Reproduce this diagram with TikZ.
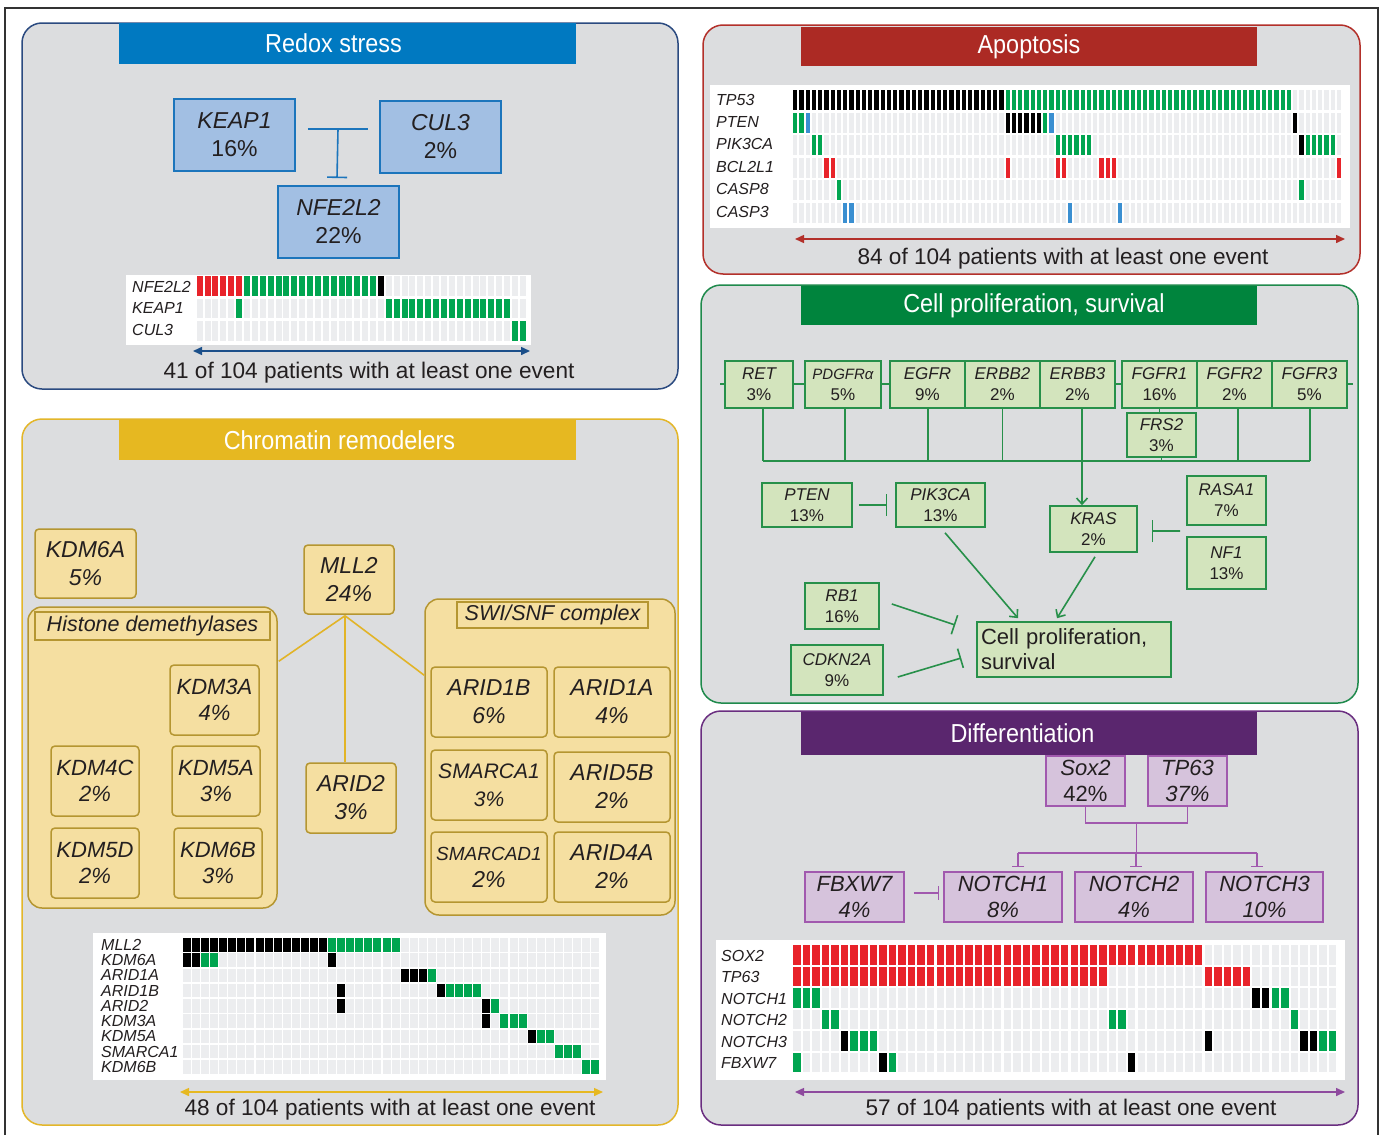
\documentclass[tikz,border=0pt]{standalone}
\usepackage{fontspec}
\setmainfont{Liberation Sans}
\newfontfamily\titlefont[FakeStretch=0.9]{Liberation Sans}
\usetikzlibrary{arrows.meta,calc}
\newcommand\fsz[2]{\fontsize{#1}{#2}\selectfont}
\newcommand\orow[4]{\foreach \i in {#2,...,#3}{\fill[#4] ({\ox+\i*\odx},#1) rectangle ++(\ow,\oh);}}
\newcommand\ogrid[2]{\foreach \yy in {#1}{\orow{\yy}{0}{#2}{cellgrey}}}
\definecolor{panelbg}{HTML}{DCDDDF}
\definecolor{cellgrey}{HTML}{ECEDEF}
\definecolor{ored}{HTML}{E8232A}
\definecolor{ogreen}{HTML}{00A550}
\definecolor{oblue}{HTML}{3A8FD1}
\definecolor{redoxtitle}{HTML}{0079C1}
\definecolor{redoxborder}{HTML}{2B4A80}
\definecolor{redoxfill}{HTML}{A2BFE3}
\definecolor{redoxline}{HTML}{1C75BC}
\definecolor{redoxarrow}{HTML}{1B4F8A}
\definecolor{apotitle}{HTML}{AC2A24}
\definecolor{apoborder}{HTML}{B3302A}
\definecolor{proltitle}{HTML}{00843D}
\definecolor{prolborder}{HTML}{1F8A4C}
\definecolor{prolfill}{HTML}{D3E4BD}
\definecolor{prolline}{HTML}{27904A}
\definecolor{difftitle}{HTML}{5A266E}
\definecolor{diffborder}{HTML}{6A2E80}
\definecolor{difffill}{HTML}{D6C3DC}
\definecolor{diffline}{HTML}{A159AE}
\definecolor{diffarrow}{HTML}{8E4A9E}
\definecolor{chromtitle}{HTML}{E6B821}
\definecolor{chromborder}{HTML}{E3B62A}
\definecolor{chromfill}{HTML}{F5DFA1}
\definecolor{chrombox}{HTML}{B59631}
\definecolor{chromline}{HTML}{E2B427}
\definecolor{txt}{HTML}{231F20}
\begin{document}
\begin{tikzpicture}[x=1pt,y=-1pt,
 wh/.style 2 args={minimum width=#1pt, minimum height=#2pt},
 panel/.style={draw=#1, fill=panelbg, line width=1.5pt, rounded corners=20pt, inner sep=0pt},
 tbar/.style={fill=#1, text=white, inner sep=0pt, font=\titlefont\fsz{26}{30}},
 foot/.style={text=txt, font=\fsz{22.6}{26}, inner sep=0pt},
 olab/.style={anchor=west, inner sep=0pt, text=txt, font=\itshape\fsz{16}{18}},
 clab/.style={anchor=west, inner sep=0pt, text=txt, font=\itshape\fsz{16}{16}},
 wbg/.style={fill=white, inner sep=0pt},
 rbox/.style={draw=redoxline, fill=redoxfill, line width=1.8pt, inner sep=0pt, align=center, text=txt, font=\fsz{23}{28}},
 gbox/.style={draw=prolline, fill=prolfill, line width=1.6pt, inner sep=0pt, align=center, text=txt, font=\fsz{17}{21}},
 dbox/.style={draw=diffline, fill=difffill, line width=1.6pt, inner sep=0pt, align=center, text=txt, font=\fsz{22}{26}},
 dboxi/.style={dbox, font=\itshape\fsz{22}{26}},
 cbox/.style={draw=chrombox, fill=chromfill, line width=1.5pt, rounded corners=4pt, inner sep=0pt, align=center, text=txt, font=\itshape\fsz{23}{28}},
 cgrp/.style={draw=chrombox, fill=chromfill, line width=1.5pt, rounded corners=14pt, inner sep=0pt},
 clabel/.style={draw=chrombox, fill=chromfill, line width=1.5pt, inner sep=0pt, text=txt, font=\itshape\fsz{21.5}{24}},
 rline/.style={draw=redoxline, line width=1.6pt},
 gline/.style={draw=prolline, line width=1.6pt},
 pline/.style={draw=diffline, line width=1.6pt},
 cline/.style={draw=chromline, line width=1.6pt},
 dbl/.style={line width=1.5pt, {Triangle[length=9pt,width=8pt]}-{Triangle[length=9pt,width=8pt]}},
 garrow/.style={gline, -{Straight Barb[length=6pt,width=11pt]}},
]
\useasboundingbox (0,0) rectangle (1381,1135);
\fill[white] (0,0) rectangle (1381,1135);
\draw[line width=1.2pt, color=black!80] (5,1135) -- (5,8) -- (1378,8) -- (1378,1135);

%================ REDOX =================
\node[panel=redoxborder, wh={656}{366}] (pRedox) at (350,206) {};
\node[tbar=redoxtitle, wh={457}{41}] (tRedox) at (347.5,43.5) {Redox stress\hspace*{28pt}};
\node[rbox, wh={121}{72}] (KEAP1) at (234.5,135) {{\itshape KEAP1}\\16\%};
\node[rbox, wh={121}{72}] (CUL3) at (440.5,137) {{\itshape CUL3}\\2\%};
\node[rbox, wh={121}{72}] (NFE2L2) at (338.5,222) {{\itshape NFE2L2}\\22\%};
\draw[rline] ([shift={(12,-6)}]KEAP1.east) coordinate (kA) -- ([shift={(-11,-8)}]CUL3.west) coordinate (kB);
\coordinate (kM) at ($(kA)!0.5!(kB)$);
\draw[rline, -{Bar[width=20pt]}] (kM) -- ([shift={(-1.5,-7)}]NFE2L2.north);
\node[wbg, wh={405}{70}] (oRedox) at (328.5,310) {};
\node[olab] (lNFE) at (132,287) {NFE2L2};
\node[olab] (lKEAP) at (132,308) {KEAP1};
\node[olab] (lCUL) at (132,330) {CUL3};
\def\ox{196.7}\def\odx{7.88}\def\ow{6}\def\oh{19.5}
\ogrid{276,298.5,321}{41}
\orow{276}{0}{5}{ored}\orow{276}{6}{22}{ogreen}\orow{276}{23}{23}{black}
\orow{298.5}{5}{5}{ogreen}\orow{298.5}{24}{39}{ogreen}
\orow{321}{40}{41}{ogreen}
\coordinate (aR1) at (193,351); \coordinate (aR2) at (530,351);
\draw[dbl, redoxarrow] (aR1) -- (aR2);
\node[foot] (fRedox) at (369,373) {41 of 104 patients with at least one event};

%================ APOPTOSIS =================
\node[panel=apoborder, wh={657}{249}] (pApo) at (1031.5,149.5) {};
\node[tbar=apotitle, wh={456}{39}] (tApo) at (1029,46.5) {Apoptosis};
\node[wbg, wh={640}{143}] (oApo) at (1030,156.5) {};
\node[olab] (lTP53) at (716,100) {TP53};
\node[olab] (lPTEN) at (716,122) {PTEN};
\node[olab] (lPIK) at (716,144) {PIK3CA};
\node[olab] (lBCL) at (716,167) {BCL2L1};
\node[olab] (lC8) at (716,189) {CASP8};
\node[olab] (lC3) at (716,212) {CASP3};
\def\ox{793}\def\odx{6.25}\def\ow{4.3}\def\oh{20}
\ogrid{90,112.5,135,157.5,180,202.5}{87}
\orow{90}{0}{33}{black}\orow{90}{34}{79}{ogreen}
\orow{112.5}{0}{1}{ogreen}\orow{112.5}{2}{2}{oblue}\orow{112.5}{34}{39}{black}\orow{112.5}{40}{40}{ogreen}\orow{112.5}{41}{41}{oblue}\orow{112.5}{80}{80}{black}
\orow{135}{3}{4}{ogreen}\orow{135}{42}{47}{ogreen}\orow{135}{81}{81}{black}\orow{135}{82}{86}{ogreen}
\orow{157.5}{5}{6}{ored}\orow{157.5}{34}{34}{ored}\orow{157.5}{42}{43}{ored}\orow{157.5}{49}{51}{ored}\orow{157.5}{87}{87}{ored}
\orow{180}{7}{7}{ogreen}\orow{180}{81}{81}{ogreen}
\orow{202.5}{8}{9}{oblue}\orow{202.5}{44}{44}{oblue}\orow{202.5}{52}{52}{oblue}
\coordinate (aA1) at (795,239); \coordinate (aA2) at (1345,239);
\draw[dbl, apoborder] (aA1) -- (aA2);
\node[foot] (fApo) at (1063,259) {84 of 104 patients with at least one event};

%================ CELL PROLIFERATION =================
\node[panel=prolborder, wh={657}{418}] (pProl) at (1029.5,494) {};
\node[tbar=proltitle, wh={456}{39}] (tProl) at (1029,305.5) {\hspace*{10pt}Cell proliferation, survival};
\coordinate (memL) at (720,384); \coordinate (memR) at (1353,384);
\draw[gline] (memL) -- (memR);
\node[gbox, wh={68}{47}] (RET) at (759,384.5) {{\itshape RET}\\3\%};
\node[gbox, wh={76}{47}] (PDGFR) at (843,384.5) {{\itshape\fsz{15}{21}PDGFRα}\\5\%};
\node[gbox, wh={75}{47}] (EGFR) at (927.5,384.5) {{\itshape EGFR}\\9\%};
\node[gbox, wh={75}{47}] (ERBB2) at (1002.5,384.5) {{\itshape ERBB2}\\2\%};
\node[gbox, wh={75}{47}] (ERBB3) at (1077.5,384.5) {{\itshape ERBB3}\\2\%};
\node[gbox, wh={75}{47}] (FGFR1) at (1159.5,384.5) {{\itshape FGFR1}\\16\%};
\node[gbox, wh={75}{47}] (FGFR2) at (1234.5,384.5) {{\itshape FGFR2}\\2\%};
\node[gbox, wh={75}{47}] (FGFR3) at (1309.5,384.5) {{\itshape FGFR3}\\5\%};
\node[gbox, wh={69}{44}] (FRS2) at (1161.5,435) {{\itshape FRS2}\\3\%};
\coordinate (bus) at (0,461);
\draw[gline] (FGFR1.south) -- (FGFR1.south |- FRS2.north);
\coordinate (dRET) at ([shift={(4,0)}]RET.south);
\coordinate (dPDG) at ([shift={(2,0)}]PDGFR.south);
\coordinate (dEGF) at ([shift={(0.5,0)}]EGFR.south);
\coordinate (dER2) at (ERBB2.south);
\coordinate (dER3) at ([shift={(4.5,0)}]ERBB3.south);
\coordinate (dFRS) at (FRS2.south);
\coordinate (dFG2) at ([shift={(3.5,0)}]FGFR2.south);
\coordinate (dFG3) at ([shift={(0.5,0)}]FGFR3.south);
\foreach \d in {dRET,dPDG,dEGF,dER2,dFRS,dFG2,dFG3} \draw[gline] (\d) -- (\d |- bus);
\draw[gline] (dRET |- bus) -- (dFG3 |- bus);
\node[gbox, wh={87}{46}] (KRAS) at (1093.5,529) {{\itshape KRAS}\\2\%};
\draw[garrow] (dER3) -- (dER3 |- KRAS.north);
\node[gbox, wh={90}{44}] (PTEN) at (807,505) {{\itshape PTEN}\\13\%};
\node[gbox, wh={89}{44}] (PIK3CA) at (940.5,505) {{\itshape PIK3CA}\\13\%};
\draw[gline, -{Bar[width=22pt]}] ([shift={(6,0)}]PTEN.east) -- ([shift={(-8,0)}]PIK3CA.west);
\node[gbox, wh={79}{49}] (RASA1) at (1226.5,500.5) {{\itshape RASA1}\\7\%};
\node[gbox, wh={79}{52}] (NF1) at (1226.5,563) {{\itshape NF1}\\13\%};
\coordinate (rasnf) at ($(RASA1.south west)!0.5!(NF1.north west)$);
\draw[gline, -{Bar[width=22pt]}] ([shift={(-6,0)}]rasnf) -- ([shift={(14,2)}]KRAS.east);
\node[gbox, wh={74}{46}] (RB1) at (842,606) {{\itshape RB1}\\16\%};
\node[gbox, wh={92}{50}] (CDKN2A) at (837,670) {{\itshape CDKN2A}\\9\%};
\node[gbox, wh={194}{55}, align=left, text width=186pt, font=\fsz{22}{25}] (cell) at (1074,649.5) {Cell proliferation,\\survival};
\draw[garrow] ([shift={(4.5,5)}]PIK3CA.south) -- ([shift={(-56,-3)}]cell.north);
\draw[garrow] ([shift={(1.5,4)}]KRAS.south) -- ([shift={(-17,-3)}]cell.north);
\draw[gline, -{Bar[width=20pt]}] ([shift={(12,-2)}]RB1.east) -- ([shift={(-21,-24.5)}]cell.west);
\draw[gline, -{Bar[width=20pt]}] ([shift={(14,7)}]CDKN2A.east) -- ([shift={(-15,8.5)}]cell.west);

%================ DIFFERENTIATION =================
\node[panel=diffborder, wh={657}{414}] (pDiff) at (1029.5,918) {};
\node[tbar=difftitle, wh={456}{43}] (tDiff) at (1029,733.5) {Differentiation\hspace*{13pt}};
\node[dbox, wh={79}{50}] (Sox2) at (1085.5,781) {{\itshape Sox2}\\42\%};
\node[dboxi, wh={79}{50}] (TP63) at (1187.5,781) {TP63\\37\%};
\node[dboxi, wh={99}{50}] (FBXW7) at (854.5,897) {FBXW7\\4\%};
\node[dboxi, wh={118}{50}] (NOTCH1) at (1003,897) {NOTCH1\\8\%};
\node[dboxi, wh={118}{50}] (NOTCH2) at (1134,897) {NOTCH2\\4\%};
\node[dboxi, wh={117}{50}] (NOTCH3) at (1264.5,897) {NOTCH3\\10\%};
\coordinate (sA) at ([shift={(0,16)}]Sox2.south);
\coordinate (sB) at ([shift={(0,16)}]TP63.south);
\draw[pline] (Sox2.south) -- (sA) -- (sB) -- (TP63.south);
\coordinate (dmid) at ($(sA)!0.5!(sB)$);
\coordinate (dbus) at ([shift={(0,30)}]dmid);
\draw[pline] (dmid) -- (dbus);
\coordinate (n1t) at ([shift={(15,-4)}]NOTCH1.north);
\coordinate (n2t) at ([shift={(2,-4)}]NOTCH2.north);
\coordinate (n3t) at ([shift={(-7.5,-4)}]NOTCH3.north);
\draw[pline] (n1t |- dbus) -- (n3t |- dbus);
\foreach \n in {n1t,n2t,n3t} \draw[pline, -{Bar[width=12pt]}] (\n |- dbus) -- (\n);
\draw[pline, -{Bar[width=14pt]}] ([shift={(9,-4)}]FBXW7.east) -- ([shift={(-4,-4)}]NOTCH1.west);
\node[wbg, wh={629}{140}] (oDiff) at (1030.5,1010) {};
\node[olab] (lSOX) at (721,956) {SOX2};
\node[olab] (lTP63) at (721,977) {TP63};
\node[olab] (lN1) at (721,999) {NOTCH1};
\node[olab] (lN2) at (721,1020) {NOTCH2};
\node[olab] (lN3) at (721,1042) {NOTCH3};
\node[olab] (lFB) at (721,1063) {FBXW7};
\def\ox{793}\def\odx{9.57}\def\ow{7.5}\def\oh{19.5}
\ogrid{945,966.5,988,1009.5,1031,1052.5}{56}
\orow{945}{0}{42}{ored}
\orow{966.5}{0}{32}{ored}\orow{966.5}{43}{47}{ored}
\orow{988}{0}{2}{ogreen}\orow{988}{48}{49}{black}\orow{988}{50}{51}{ogreen}
\orow{1009.5}{3}{4}{ogreen}\orow{1009.5}{33}{34}{ogreen}\orow{1009.5}{52}{52}{ogreen}
\orow{1031}{5}{5}{black}\orow{1031}{6}{8}{ogreen}\orow{1031}{43}{43}{black}\orow{1031}{53}{54}{black}\orow{1031}{55}{56}{ogreen}
\orow{1052.5}{0}{0}{ogreen}\orow{1052.5}{9}{9}{black}\orow{1052.5}{10}{10}{ogreen}\orow{1052.5}{35}{35}{black}
\coordinate (aD1) at (795,1092); \coordinate (aD2) at (1345,1092);
\draw[dbl, diffarrow] (aD1) -- (aD2);
\node[foot] (fDiff) at (1071,1110) {57 of 104 patients with at least one event};

%================ CHROMATIN =================
\node[panel=chromborder, wh={656}{706}] (pChrom) at (350,772) {};
\node[tbar=chromtitle, wh={457}{40}] (tChrom) at (347.5,440) {Chromatin remodelers\hspace*{16pt}};
\node[cgrp, wh={249}{301}] (hist) at (152.5,757.5) {};
\node[clabel, wh={235}{28}] (histlab) at (152.5,626) {Histone demethylases};
\node[cgrp, wh={250}{316}] (swi) at (550,757) {};
\node[clabel, wh={191}{26}] (swilab) at (552.5,615) {SWI/SNF complex};
\node[cbox, wh={101}{69}] (KDM6A) at (85.5,563.5) {KDM6A\\5\%};
\node[cbox, wh={90}{69}] (MLL2) at (349,579.5) {MLL2\\24\%};
\node[cbox, wh={89}{70}, font=\itshape\fsz{22}{26}] (KDM3A) at (214.5,700) {KDM3A\\4\%};
\node[cbox, wh={88}{70}, font=\itshape\fsz{22}{26}] (KDM4C) at (95,781) {KDM4C\\2\%};
\node[cbox, wh={88}{70}, font=\itshape\fsz{22}{26}] (KDM5A) at (216,781) {KDM5A\\3\%};
\node[cbox, wh={88}{70}, font=\itshape\fsz{22}{26}] (KDM5D) at (95,863) {KDM5D\\2\%};
\node[cbox, wh={88}{70}, font=\itshape\fsz{22}{26}] (KDM6B) at (218,863) {KDM6B\\3\%};
\node[cbox, wh={90}{70}] (ARID2) at (351,798) {ARID2\\3\%};
\node[cbox, wh={116}{70}] (ARID1B) at (489,702) {ARID1B\\6\%};
\node[cbox, wh={116}{70}] (ARID1A) at (612,702) {ARID1A\\4\%};
\node[cbox, wh={116}{70}, font=\itshape\fsz{21}{28}] (SMARCA1) at (489,785) {SMARCA1\\3\%};
\node[cbox, wh={116}{70}] (ARID5B) at (612,787) {ARID5B\\2\%};
\node[cbox, wh={116}{70}, font=\itshape\fsz{19}{27}] (SMARCAD1) at (489,867) {SMARCAD1\\\fsz{23}{27}2\%};
\node[cbox, wh={116}{70}] (ARID4A) at (612,867) {ARID4A\\2\%};
\coordinate (mapex) at ([shift={(-4,1)}]MLL2.south);
\draw[cline] (mapex) -- ([shift={(1,55)}]hist.north east);
\draw[cline] (mapex) -- ([shift={(-6,0)}]ARID2.north);
\draw[cline] (mapex) -- ([shift={(0,77)}]swi.north west);
\node[wbg, wh={513}{147}] (oChrom) at (349.5,1006.5) {};
\node[clab] (lM) at (101,945) {MLL2};
\node[clab] (lK6A) at (101,960) {KDM6A};
\node[clab] (lA1A) at (101,975) {ARID1A};
\node[clab] (lA1B) at (101,991) {ARID1B};
\node[clab] (lA2) at (101,1006) {ARID2};
\node[clab] (lK3A) at (101,1021) {KDM3A};
\node[clab] (lK5A) at (101,1036) {KDM5A};
\node[clab] (lSM) at (101,1052) {SMARCA1};
\node[clab] (lK6B) at (101,1067) {KDM6B};
\def\ox{183}\def\odx{9.07}\def\ow{8}\def\oh{13.5}
\ogrid{938,953.25,968.5,983.75,999,1014.25,1029.5,1044.75,1060}{45}
\orow{938}{0}{15}{black}\orow{938}{16}{23}{ogreen}
\orow{953.25}{0}{1}{black}\orow{953.25}{2}{3}{ogreen}\orow{953.25}{16}{16}{black}
\orow{968.5}{24}{26}{black}\orow{968.5}{27}{27}{ogreen}
\orow{983.75}{17}{17}{black}\orow{983.75}{28}{28}{black}\orow{983.75}{29}{32}{ogreen}
\orow{999}{17}{17}{black}\orow{999}{33}{33}{black}\orow{999}{34}{34}{ogreen}
\orow{1014.25}{33}{33}{black}\orow{1014.25}{35}{37}{ogreen}
\orow{1029.5}{38}{38}{black}\orow{1029.5}{39}{40}{ogreen}
\orow{1044.75}{41}{43}{ogreen}
\orow{1060}{44}{45}{ogreen}
\coordinate (aC1) at (180,1092); \coordinate (aC2) at (603,1092);
\draw[dbl, chromtitle] (aC1) -- (aC2);
\node[foot] (fChrom) at (390,1110) {48 of 104 patients with at least one event};
\end{tikzpicture}
\end{document}
